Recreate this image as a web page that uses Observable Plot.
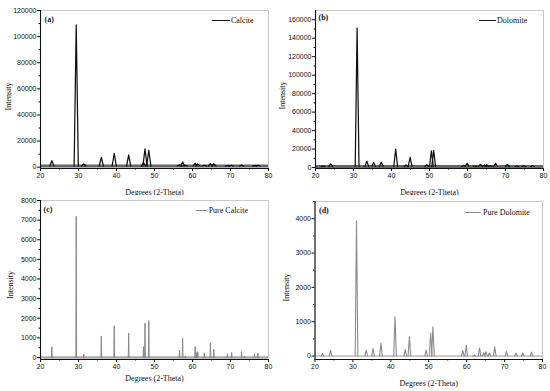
<!DOCTYPE html>
<html><head><meta charset="utf-8">
<script src="https://cdn.jsdelivr.net/npm/d3@7"></script>
<script src="https://cdn.jsdelivr.net/npm/@observablehq/plot@0.6"></script>
<style>
body{margin:0;background:#fff;}
#wrap{position:relative;width:550px;height:391px;overflow:hidden;background:#fff;}
.panel{position:absolute;}
.panel svg{overflow:visible;}
.leg{position:absolute;height:10px;font-family:"Liberation Serif",serif;font-size:8px;color:#111;display:flex;align-items:center;white-space:nowrap;}
.leg .sw{display:inline-block;height:0;margin-right:2px;}
</style></head><body><div id="wrap"></div>
<script>
// ---- data ----
const xTicks = [20, 30, 40, 50, 60, 70, 80];
const xMinor = [25, 35, 45, 55, 65, 75];

const calcitePos = [23.0, 29.4, 31.4, 36.0, 39.4, 43.2, 47.1, 47.5, 48.5, 56.6, 57.4, 58.1, 60.7, 61.4, 63.1, 64.7, 65.6, 69.2, 70.2, 72.9, 76.3, 77.2];
const calciteInt = [5000, 109000, 2500, 7500, 10500, 9500, 3500, 14000, 13000, 1800, 4000, 1500, 3000, 2500, 1500, 2800, 2600, 1300, 1500, 1600, 1200, 1500];
const calciteBase = 900;
const calciteYTicks = [0, 20000, 40000, 60000, 80000, 100000, 120000];
const calciteYMinor = [10000, 30000, 50000, 70000, 90000, 110000];

const dolomitePos = [22.0, 24.0, 30.95, 33.5, 35.3, 37.3, 41.1, 43.8, 44.9, 49.3, 50.5, 51.1, 59.0, 59.9, 62.0, 63.4, 64.5, 65.1, 66.0, 67.4, 70.5, 73.0, 74.8, 77.1];
const dolomiteInt = [1800, 4000, 151000, 7000, 5500, 5800, 20000, 2800, 11000, 3000, 18000, 18500, 2500, 4500, 1500, 3500, 2800, 3000, 1800, 4500, 3500, 2000, 2200, 2200];
const dolomiteBase = 1200;
const dolomiteYTicks = [0, 20000, 40000, 60000, 80000, 100000, 120000, 140000, 160000];
const dolomiteYMinor = [10000, 30000, 50000, 70000, 90000, 110000, 130000, 150000];

const pureCalcitePos = [23.0, 29.4, 31.4, 36.0, 39.4, 43.2, 47.1, 47.5, 48.5, 56.6, 57.4, 58.1, 60.7, 61.0, 61.4, 63.1, 64.7, 65.6, 69.2, 70.3, 72.9, 73.7, 76.3, 77.2];
const pureCalciteInt = [550, 7200, 170, 1100, 1620, 1250, 560, 1750, 1880, 370, 980, 80, 560, 250, 300, 240, 730, 420, 190, 250, 300, 60, 170, 230];
const pureCalciteBase = 0;
const pureCalciteYTicks = [0, 1000, 2000, 3000, 4000, 5000, 6000, 7000, 8000];
const pureCalciteYMinor = [500, 1500, 2500, 3500, 4500, 5500, 6500, 7500];

const pureDolomitePos = [22.0, 24.1, 30.95, 33.5, 35.3, 37.4, 41.1, 43.8, 44.9, 49.3, 50.5, 51.1, 59.0, 59.9, 62.0, 63.4, 64.5, 65.1, 66.0, 67.4, 70.5, 73.0, 74.8, 77.1];
const pureDolomiteInt = [70, 165, 3940, 175, 220, 380, 1140, 190, 560, 175, 670, 850, 155, 310, 30, 230, 100, 130, 90, 270, 135, 80, 90, 115];
const pureDolomiteBase = 0;
const pureDolomiteYTicks = [0, 1000, 2000, 3000, 4000];
const pureDolomiteYMinor = [500, 1500, 2500, 3500, 4500];

// ---- drawing ----
const fmt = d3.format("d");
function panel(o) {
  const pts = [];
  o.pos.forEach((p, i) => {
    pts.push({x: p - o.hw, y: o.base, k: i}, {x: p, y: o.inten[i], k: i}, {x: p + o.hw, y: o.base, k: i});
  });
  return Plot.plot({
    width: o.w, height: o.h,
    marginTop: o.mt, marginBottom: o.mb, marginLeft: o.ml, marginRight: o.mr,
    x: {domain: [20, 80]},
    y: {domain: o.yDomain},
    style: {fontFamily: "Liberation Sans, Arial, sans-serif", fontSize: "7px", color: "#111", background: "#fff", overflow: "visible"},
    marks: [
      Plot.frame({stroke: "#c8c8c8"}),
      Plot.ruleY([o.base], {stroke: o.bandColor, strokeWidth: o.bandW}),
      Plot.line(pts, {x: "x", y: "y", z: "k", stroke: o.color, strokeWidth: o.lw}),
      Plot.ruleX([20], {stroke: "#111", strokeWidth: 1.1}),
      Plot.ruleY([o.yDomain[0]], {stroke: "#111", strokeWidth: 1.1}),
      Plot.axisX({ticks: xTicks, tickSize: 3, tickPadding: 1.5, tickFormat: fmt, label: null}),
      Plot.axisX({ticks: xMinor, tickSize: 1.5, tickFormat: () => "", label: null}),
      Plot.axisY({ticks: o.yTicks, tickSize: 3, tickPadding: 1, tickFormat: fmt, label: null}),
      Plot.axisY({ticks: o.yMinor, tickSize: 1.5, tickFormat: () => "", label: null}),
      Plot.text(["Intensity"], {frameAnchor: "left", rotate: -90, dx: -o.ylx, dy: o.yly, textAnchor: "middle", lineAnchor: "middle", fontFamily: "Liberation Serif, serif", fontSize: 8, fill: "#111"}),
      Plot.text(["Degrees (2-Theta)"], {frameAnchor: "bottom", dy: o.xly, textAnchor: "middle", lineAnchor: "middle", fontFamily: "Liberation Serif, serif", fontSize: 8, fill: "#111"}),
      Plot.text([o.tag], {frameAnchor: "top-left", dx: o.tdx, dy: o.tdy, textAnchor: "start", lineAnchor: "middle", fontFamily: "Liberation Serif, serif", fontWeight: "bold", fontSize: 8, fill: "#111"})
    ]
  });
}

const wrap = document.getElementById("wrap");
function place(el, left, top) {
  const d = document.createElement("div");
  d.className = "panel";
  d.style.left = left + "px"; d.style.top = top + "px";
  d.appendChild(el);
  wrap.appendChild(d);
}
function legend(label, left, cy, swW, color, sw, textLeft) {
  const d = document.createElement("div");
  d.className = "leg";
  d.style.left = left + "px"; d.style.top = (cy - 5) + "px";
  const s = document.createElement("span");
  s.className = "sw";
  s.style.width = swW + "px";
  s.style.borderTop = sw + "px solid " + color;
  s.style.marginRight = (textLeft - left - swW) + "px";
  d.appendChild(s);
  d.appendChild(document.createTextNode(label));
  wrap.appendChild(d);
}

place(panel({pos: calcitePos, inten: calciteInt, base: calciteBase, hw: 0.55, color: "#111", lw: 1.25, bandColor: "#666", bandW: 3,
  yDomain: [-1000, 120000], yTicks: calciteYTicks, yMinor: calciteYMinor,
  w: 275, h: 195, mt: 10, mb: 27, ml: 40, mr: 7, ylx: 32, yly: 7, xly: 24, tag: "(a)", tdx: 4, tdy: 9}), 0, 0);

place(panel({pos: dolomitePos, inten: dolomiteInt, base: dolomiteBase, hw: 0.5, color: "#111", lw: 1.25, bandColor: "#666", bandW: 3,
  yDomain: [-1000, 170000], yTicks: dolomiteYTicks, yMinor: dolomiteYMinor,
  w: 275, h: 195, mt: 10, mb: 27, ml: 40, mr: 7, ylx: 33, yly: 6, xly: 24, tag: "(b)", tdx: 3, tdy: 7}), 275, 0);

place(panel({pos: pureCalcitePos, inten: pureCalciteInt, base: pureCalciteBase, hw: 0.1, color: "#888", lw: 1, bandColor: "#aaa", bandW: 2.5,
  yDomain: [-100, 8000], yTicks: pureCalciteYTicks, yMinor: pureCalciteYMinor,
  w: 275, h: 196, mt: 5, mb: 32, ml: 40, mr: 7, ylx: 30, yly: 5, xly: 18.5, tag: "(c)", tdx: 3, tdy: 9}), 0, 195);

place(panel({pos: pureDolomitePos, inten: pureDolomiteInt, base: pureDolomiteBase, hw: 0.35, color: "#8a8a8a", lw: 1.1, bandColor: "#999", bandW: 1,
  yDomain: [-100, 4500], yTicks: pureDolomiteYTicks, yMinor: pureDolomiteYMinor,
  w: 275, h: 196, mt: 6, mb: 32, ml: 39.5, mr: 8, ylx: 29, yly: 7, xly: 23.5, tag: "(d)", tdx: 4, tdy: 9}), 275, 195);

legend("Calcite", 211.7, 20, 18.3, "#111", 1.5, 231);
legend("Dolomite", 479, 20, 16.7, "#111", 1.5, 497);
legend("Pure Calcite", 196, 210.7, 10.7, "#888", 1.2, 208.7);
legend("Pure Dolomite", 465, 212.3, 16, "#888", 1.2, 483);
</script></body></html>
